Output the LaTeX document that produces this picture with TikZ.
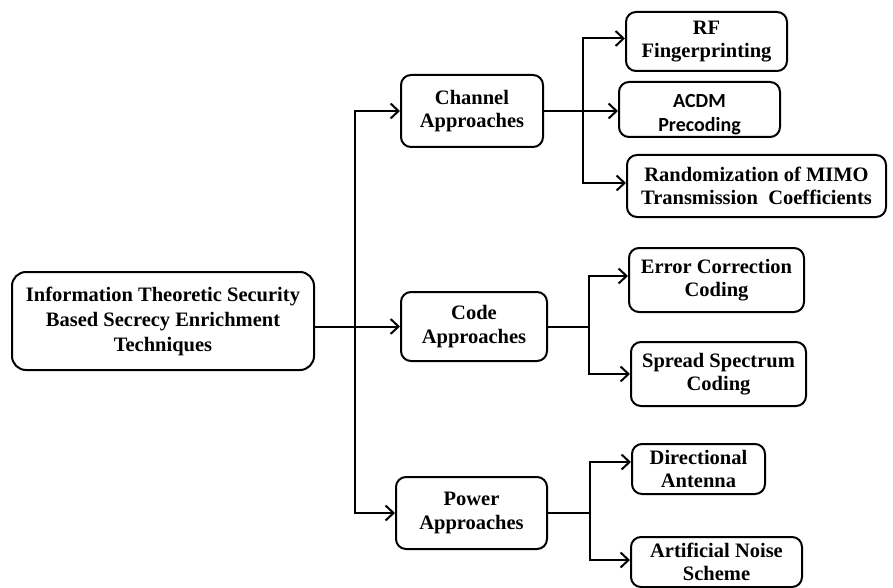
\documentclass[tikz,border=0pt]{standalone}
\usepackage{fontspec}
\setmainfont{Liberation Serif}
\newfontfamily\calibrifont{Carlito}
\usetikzlibrary{arrows.meta}

\tikzset{
  box/.style={draw, line width=2pt, rounded corners=10pt, inner sep=0pt,
    align=center, font=\fontsize{20.5}{23.5}\selectfont\bfseries},
  link/.style={line width=2pt},
  arr/.style={link, -{Straight Barb[length=8pt,width=15pt,line width=2pt]}}
}

\begin{document}
\begin{tikzpicture}[x=1pt,y=-1pt]
\useasboundingbox (0,0) rectangle (893,588);

% root
\node[box, rounded corners=14pt, minimum width=302pt, minimum height=98pt,
  font=\fontsize{20.5}{25}\selectfont\bfseries] (main) at (163,321)
  {Information Theoretic Security\\Based Secrecy Enrichment\\Techniques};

% second level
\node[box, minimum width=142pt, minimum height=72pt] (chan) at (472,111) {Channel\\Approaches};
\node[box, minimum width=146pt, minimum height=69pt] (code) at (474,326.5) {Code\\Approaches};
\node[box, minimum width=151pt, minimum height=72pt] (power) at (471.5,513) {Power\\Approaches};

% leaves
\node[box, minimum width=161pt, minimum height=59pt] (rf) at (706.5,41.5) {RF\\Fingerprinting};
\node[box, minimum width=161pt, minimum height=55pt] (acdm) at (699.5,109.5) {};
\node[align=center, inner sep=0pt, font=\fontsize{20}{24}\selectfont\calibrifont\bfseries]
  (acdmtext) at ([yshift=-5pt]acdm.center) {ACDM\\Precoding};
\node[box, minimum width=259pt, minimum height=62pt] (rand) at (756.5,186)
  {Randomization of MIMO\\Transmission\ \ Coefficients};
\node[box, minimum width=175pt, minimum height=64pt] (err) at (716.5,280) {Error Correction\\Coding};
\node[box, minimum width=175pt, minimum height=64pt] (spread) at (718.5,374) {Spread Spectrum\\Coding};
\node[box, minimum width=133pt, minimum height=50pt] (dir) at (698.5,469) {Directional\\Antenna};
\node[box, minimum width=171pt, minimum height=50pt] (art) at (716.5,562) {Artificial Noise\\Scheme};

% entry points on the leaf boxes
\coordinate (rfin) at ([yshift=3pt]rf.west);
\coordinate (randin) at ([yshift=3pt]rand.west);
\coordinate (errin) at ([yshift=4pt]err.west);
\coordinate (dirin) at ([yshift=7pt]dir.west);
\coordinate (artin) at ([yshift=2pt]art.west);

% branch points
\coordinate (mb) at (355,0);
\coordinate (cb) at (583,0);
\coordinate (kb) at (589,0);
\coordinate (pb) at (590,0);

% root to approaches
\draw[arr] (main.east |- code.west) -- (code.west);
\draw[arr] (mb |- power.west) -- (mb |- chan.west) -- (chan.west);
\draw[arr] (mb |- chan.west) -- (mb |- power.west) -- (power.west);

% channel approaches
\draw[arr] (chan.east) -- (chan.east -| acdm.west);
\draw[arr] (cb |- randin) -- (cb |- rfin) -- (rfin);
\draw[arr] (cb |- rfin) -- (cb |- randin) -- (randin);

% code approaches
\draw[link] (code.east) -- (kb |- code.east);
\draw[arr] (kb |- code.east) |- (errin);
\draw[arr] (kb |- code.east) |- (spread.west);

% power approaches
\draw[link] (power.east) -- (pb |- power.east);
\draw[arr] (pb |- power.east) |- (dirin);
\draw[arr] (pb |- power.east) |- (artin);
\end{tikzpicture}
\end{document}
